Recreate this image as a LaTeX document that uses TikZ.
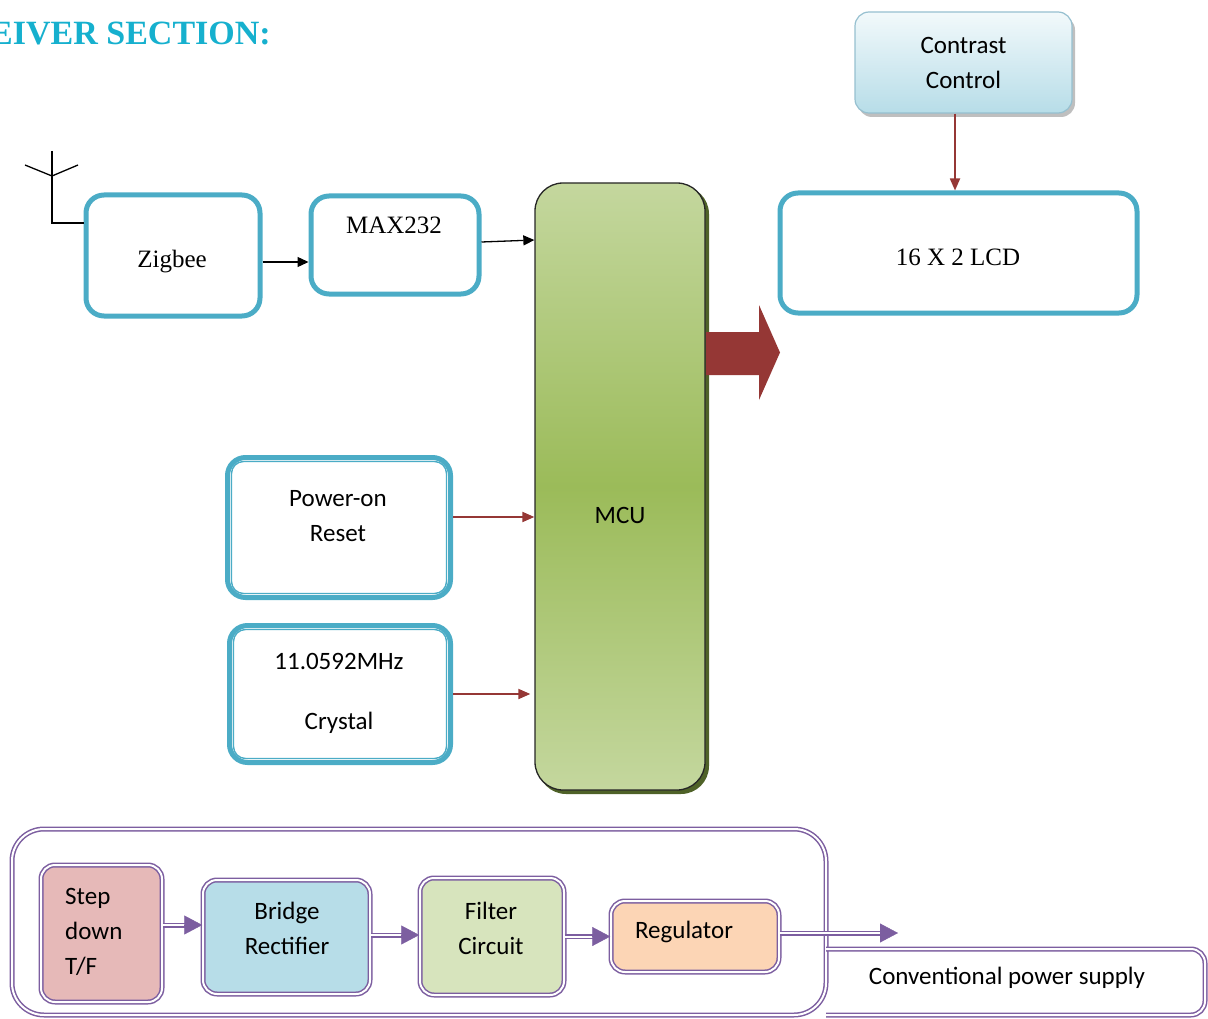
\documentclass[tikz,border=0pt]{standalone}
\usepackage{fontspec}
\setmainfont{Liberation Serif}
\newfontfamily\calfont{Carlito}
\usetikzlibrary{arrows.meta,calc}
\definecolor{cyanb}{RGB}{75,172,198}
\definecolor{titlecol}{RGB}{22,176,206}
\definecolor{redarr}{RGB}{149,55,53}
\definecolor{purp}{RGB}{124,94,160}
\definecolor{mcutop}{RGB}{196,215,158}
\definecolor{mcumid}{RGB}{155,187,89}
\definecolor{mcushadow}{RGB}{79,98,40}
\definecolor{ccTop}{RGB}{242,249,251}
\definecolor{ccBot}{RGB}{183,221,232}
\definecolor{ccBorder}{RGB}{150,192,208}
\definecolor{pinkf}{RGB}{230,185,184}
\definecolor{bluef}{RGB}{183,221,232}
\definecolor{greenf}{RGB}{215,228,189}
\definecolor{orangef}{RGB}{252,213,181}
\begin{document}
\begin{tikzpicture}[x=1pt,y=-1pt,
  sertext/.style={font=\fontsize{25}{30}\selectfont, inner sep=0pt},
  caltext/.style={font=\calfont\fontsize{25}{35}\selectfont, inner sep=0pt, align=center},
  cbox/.style={draw=cyanb, line width=5pt, rounded corners=18pt, fill=white, inner sep=0pt, sertext},
  cinner/.style={draw=cyanb, line width=1.4pt, rounded corners=12pt},
  blkarrow/.style={draw=black, line width=1.3pt, -{Triangle[length=11pt,width=10pt]}},
  redarrow/.style={draw=redarr, line width=1.8pt, -{Triangle[length=12pt,width=10pt]}},
  pbox/.style={draw=purp, double=white, double distance=2pt, line width=1.5pt, rounded corners=14pt, inner sep=0pt},
  pshaft/.style={draw=purp, double=white, double distance=2pt, line width=1.5pt},
  phead/.style={draw=purp, fill=purp, line width=0.4pt, -{Triangle[length=18pt,width=19pt]}}
]
\useasboundingbox (0,0) rectangle (1208,1019);

% title (cut at left edge, as in the reference)
\begin{scope}
\clip (0,0) rectangle (1208,1019);
\node[anchor=base east, text=titlecol, font=\bfseries\fontsize{34}{40}\selectfont, inner sep=0pt] (title) at (271,45) {RECEIVER SECTION:};
\end{scope}

% Zigbee, MAX232, LCD
\node[cbox, minimum width=174pt, minimum height=121pt] (zig) at (173,255.5) {};
\node[sertext] (zigtxt) at (172,262) {Zigbee};
\node[cbox, minimum width=168pt, minimum height=98pt] (max) at (395,245) {};
\node[sertext] (maxtxt) at (394,225) {MAX232};
\node[cbox, minimum width=357pt, minimum height=120pt] (lcd) at (958.5,253) {};
\node[sertext] (lcdtxt) at (958,257) {16 X 2 LCD};

% antenna
\coordinate (anttop) at (52,151);
\coordinate (antmid) at (52,176);
\coordinate (antl) at (25,165);
\coordinate (antr) at (78,165);
\coordinate (antbase) at (52,223);
\draw[line width=1.3pt] (anttop) -- (antbase) -- (antbase -| zig.west);
\draw[line width=1.3pt] (antl) -- (antmid) -- (antr);

% Contrast control
\fill[black!25, rounded corners=14pt] (858,16) rectangle (1075,117);
\node[draw=ccBorder, line width=1.2pt, rounded corners=14pt, top color=ccTop, bottom color=ccBot,
      minimum width=217pt, minimum height=101pt, caltext] (cc) at (963.5,62.5) {Contrast\\Control};

% MCU
\fill[mcushadow, rounded corners=28pt] (538,186) rectangle (709,794);
\node[draw=black!85, line width=1.3pt, rounded corners=28pt, top color=mcutop, bottom color=mcutop, middle color=mcumid,
      minimum width=170pt, minimum height=607pt, inner sep=0pt] (mcu) at (620,486.5) {};
\node[caltext] (mcutxt) at (620,515) {MCU};

% big red output arrow
\fill[redarr] (706,332) -- (759,332) -- (759,305) -- (780,352.5) -- (759,400) -- (759,375) -- (706,375) -- cycle;

% Power-on reset and crystal
\node[cbox, minimum width=223pt, minimum height=140pt] (por) at (339,527.5) {};
\draw[cinner] ($(por.south west)+(6.5,-6.5)$) rectangle ($(por.north east)+(-6.5,6.5)$);
\node[caltext] (portxt) at (338,516) {Power-on\\Reset};
\node[cbox, minimum width=221pt, minimum height=137pt] (cry) at (340,694) {};
\draw[cinner] ($(cry.south west)+(6.5,-6.5)$) rectangle ($(cry.north east)+(-6.5,6.5)$);
\node[caltext] (crytxt) at (339,693) {11.0592MHz\\[25pt]Crystal};

% connectors (top part)
\draw[blkarrow] ([yshift=-6.5pt]zig.east) -- ([yshift=-6.5pt]zig.east -| max.west);
\draw[blkarrow] ([yshift=3pt]max.east) -- ([yshift=5pt]max.east -| mcu.west);
\draw[redarrow] ([xshift=-8.5pt]cc.south) -- ([xshift=-8.5pt]cc.south |- lcd.north);
\draw[redarrow] ([yshift=10.5pt]por.east) -- ([yshift=10.5pt]por.east -| mcu.west);
\draw[redarrow] (cry.east) -- ([xshift=-4pt]cry.east -| mcu.west);

% power supply section
\draw[pshaft, rounded corners=32pt] (12,829) rectangle (826,1015);
\draw[pshaft, rounded corners=14pt] (826,949) -- (1205,949) -- (1205,1015) -- (826,1015);
\node[caltext] (conv) at (1007,978) {Conventional power supply};

\node[pbox, fill=pinkf, minimum width=121pt, minimum height=137pt] (step) at (101.5,933.5) {};
\node[caltext, align=left, anchor=west] (steptxt) at (65,932) {Step\\down\\T/F};
\node[pbox, fill=bluef, minimum width=167pt, minimum height=114pt] (bridge) at (286.5,937) {};
\node[caltext] (bridgetxt) at (287,928) {Bridge\\Rectifier};
\node[pbox, fill=greenf, minimum width=144pt, minimum height=117pt] (filter) at (492,936.5) {};
\node[caltext] (filtertxt) at (491,928) {Filter\\Circuit};
\node[pbox, fill=orangef, minimum width=168pt, minimum height=71pt] (reg) at (695,936.5) {};
\node[caltext] (regtxt) at (684,932) {Regulator};

\coordinate (s1) at ([yshift=8.5pt]step.east);
\coordinate (e1) at (s1 -| bridge.west);
\draw[pshaft, shorten >=16pt] (s1) -- (e1);
\draw[phead] ($(e1)+(-2,0)$) -- (e1);

\coordinate (s2) at ([yshift=2pt]bridge.east);
\coordinate (e2) at (s2 -| filter.west);
\draw[pshaft, shorten >=16pt] (s2) -- (e2);
\draw[phead] ($(e2)+(-2,0)$) -- (e2);

\coordinate (s3) at (filter.east);
\coordinate (e3) at (s3 -| reg.west);
\draw[pshaft, shorten >=16pt] (s3) -- (e3);
\draw[phead] ($(e3)+(-2,0)$) -- (e3);

\coordinate (s4) at ([yshift=3.5pt]reg.east);
\coordinate (out) at (898,933);
\draw[pshaft, shorten >=18pt] (s4) -- (out);
\draw[phead] ($(out)+(-2,0)$) -- (out);
\end{tikzpicture}
\end{document}
